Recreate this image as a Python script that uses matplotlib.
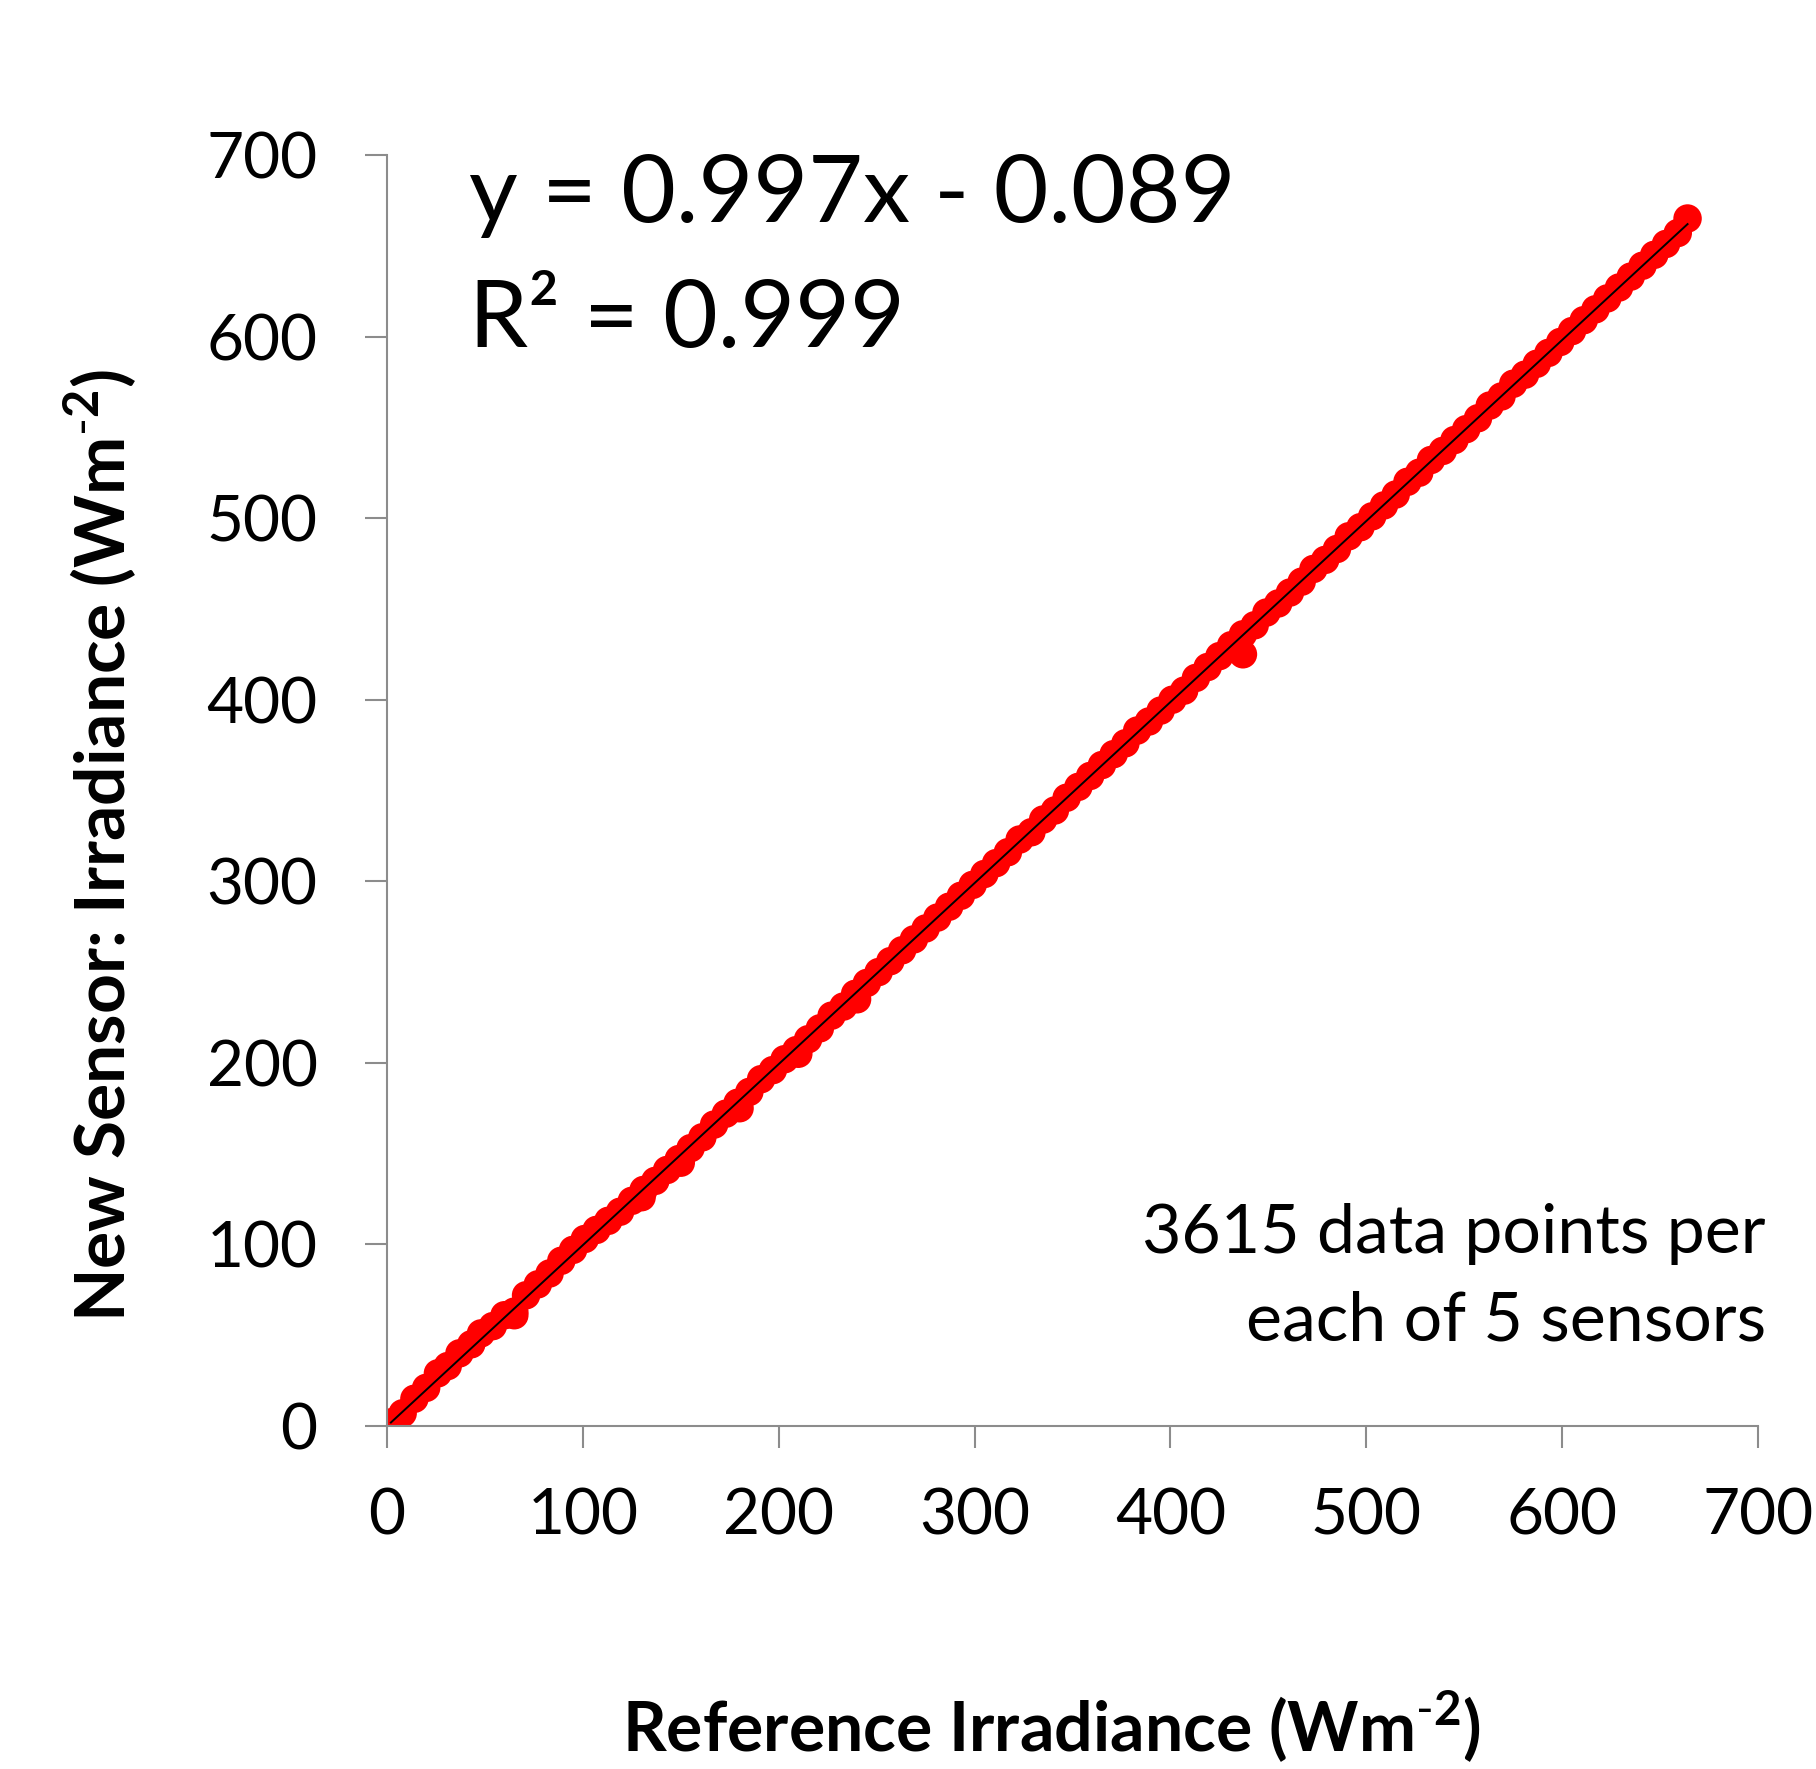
import matplotlib
matplotlib.use("Agg")
import matplotlib.pyplot as plt
import numpy as np

plt.rcParams['font.family'] = ['Lato', 'DejaVu Sans']
plt.rcParams['mathtext.fontset'] = 'custom'
plt.rcParams['mathtext.rm'] = 'Lato'
plt.rcParams['mathtext.bf'] = 'Lato:bold'

# reference irradiance vs new sensor irradiance
ref_irr = [2, 8, 14, 20, 26, 31, 37, 43, 48, 54, 60, 65, 71, 77, 83, 89, 95,
           101, 107, 113, 119, 125, 131, 137, 143, 149, 155, 161, 167, 173,
           179, 185, 191, 197, 203, 209, 215, 221, 227, 233, 239, 245, 251,
           257, 263, 269, 275, 281, 287, 293, 299, 305, 311, 317, 323, 329,
           335, 341, 347, 353, 359, 365, 371, 377, 383, 389, 395, 401, 407,
           413, 419, 425, 431, 437, 443, 449, 455, 461, 467, 473, 479, 485,
           491, 497, 503, 509, 515, 521, 527, 533, 539, 545, 551, 557, 563,
           569, 575, 581, 587, 593, 599, 605, 611, 617, 623, 629, 635, 641,
           647, 653, 659, 664,
           437, 65, 130, 150, 180, 210, 240]
new_irr = [2, 7, 15, 21, 29, 33, 40, 45, 51, 55, 61, 63, 72, 78, 84, 91, 97,
           103, 108, 113, 118, 124, 130, 135, 141, 147, 153, 159, 166, 172,
           178, 184, 191, 196, 202, 207, 213, 219, 226, 231, 238, 244, 250,
           256, 262, 268, 274, 280, 286, 292, 298, 304, 310, 316, 323, 327,
           334, 339, 346, 352, 358, 364, 370, 376, 383, 388, 394, 400, 405,
           412, 418, 424, 430, 436, 441, 448, 453, 459, 465, 472, 477, 483,
           490, 495, 501, 507, 513, 520, 525, 532, 537, 543, 549, 555, 562,
           567, 574, 579, 585, 591, 597, 603, 609, 615, 621, 627, 633, 639,
           645, 651, 657, 665,
           425, 61, 126, 145, 175, 205, 235]

slope = 0.997
intercept = -0.089
ticks = [0, 100, 200, 300, 400, 500, 600, 700]

fig = plt.figure(figsize=(18.16, 17.69), dpi=100)
ax = fig.add_axes([0.2131, 0.1939, 0.7550, 0.7185])

ax.scatter(ref_irr, new_irr, s=420, color='#ff0000', edgecolors='none', zorder=2)
fx = np.array([min(ref_irr), max(ref_irr)])
ax.plot(fx, slope * fx + intercept, color='black', lw=1.4, zorder=3)

ax.set_xlim(0, 700)
ax.set_ylim(0, 700)
ax.set_xticks(ticks)
ax.set_yticks(ticks)
for s in ['top', 'right']:
    ax.spines[s].set_visible(False)
for s in ['left', 'bottom']:
    ax.spines[s].set_color('#8c8c8c')
    ax.spines[s].set_linewidth(1.5)
ax.tick_params(axis='both', direction='out', length=16, width=1.5,
               color='#8c8c8c', labelsize=46)
ax.tick_params(axis='y', pad=34)
ax.tick_params(axis='x', pad=28)

fig.text(469 / 1816, 1 - 222 / 1769, 'y = 0.997x - 0.089', fontsize=68,
         ha='left', va='baseline')
fig.text(469 / 1816, 1 - 347 / 1769, 'R² = 0.999', fontsize=68,
         ha='left', va='baseline')

fig.text(1766 / 1816, 1 - 1253 / 1769, '3615 data points per', fontsize=49,
         ha='right', va='baseline')
fig.text(1766 / 1816, 1 - 1340 / 1769, 'each of 5 sensors', fontsize=49,
         ha='right', va='baseline')

unit = r'(Wm$^{\mathbf{\text{-}2}}$)'
fig.text(1052 / 1816, 1 - 1727 / 1769, 'Reference Irradiance ' + unit,
         fontsize=49, fontweight='bold', ha='center', va='center')
fig.text(100 / 1816, 1 - 845 / 1769, 'New Sensor: Irradiance ' + unit,
         fontsize=50, fontweight='bold', ha='center', va='center', rotation=90)

fig.savefig('out.png', dpi=100, facecolor='white')
